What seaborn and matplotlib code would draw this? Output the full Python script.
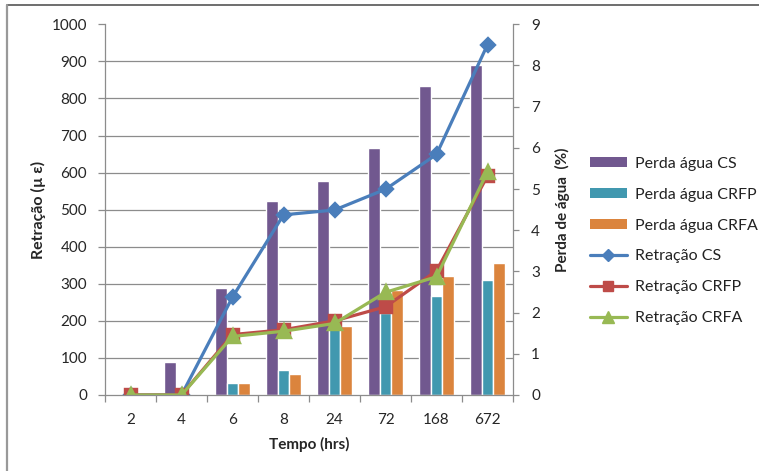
import matplotlib
matplotlib.use("Agg")
import matplotlib.pyplot as plt
from matplotlib.lines import Line2D
from matplotlib.ticker import FixedLocator
import numpy as np
import pandas as pd
import seaborn as sns

# Tempo de ensaio (horas) – eixo categórico
tempo = ["2", "4", "6", "8", "24", "72", "168", "672"]

# Perda de água (%) – barras, eixo da direita
perda_cs = [0.0, 0.8, 2.6, 4.7, 5.2, 6.0, 7.5, 8.0]
perda_crfp = [0.0, 0.0, 0.3, 0.6, 1.7, 2.0, 2.4, 2.8]
perda_crfa = [0.0, 0.0, 0.3, 0.5, 1.67, 2.55, 2.9, 3.2]

# Retração (µε) – linhas, eixo da esquerda
retr_cs = [0, 0, 264, 486, 499, 555, 649, 945]
retr_crfp = [0, 0, 163, 176, 200, 238, 335, 591]
retr_crfa = [0, 0, 158, 172, 193, 277, 319, 602]

bar_names = ["Perda água CS", "Perda água CRFP", "Perda água CRFA"]
line_names = ["Retração CS", "Retração CRFP", "Retração CRFA"]
bar_colors = ["#71588F", "#4198AF", "#DB843D"]
line_colors = ["#4A7EBB", "#BE4B48", "#98B954"]
markers = ["D", "s", "^"]
marker_sizes = [7.5, 9, 10]

bars_df = pd.DataFrame({
    "Tempo": tempo * 3,
    "Perda": perda_cs + perda_crfp + perda_crfa,
    "Serie": np.repeat(bar_names, len(tempo)),
})
lines_df = pd.DataFrame({
    "Tempo": tempo * 3,
    "Retracao": retr_cs + retr_crfp + retr_crfa,
    "Serie": np.repeat(line_names, len(tempo)),
})

sns.set_theme(style="white")
plt.rcParams["font.family"] = ["Lato", "DejaVu Sans"]
plt.rcParams["text.color"] = "#222222"

fig = plt.figure(figsize=(7.59, 4.71), dpi=100)
ax = fig.add_axes([105 / 759, 1 - 395 / 471, 408 / 759, (395 - 24.3) / 471])
ax2 = ax.twinx()

grid_col = "#8C8C8C"
spine_col = "#8C8C8C"

# Barras de perda de água no eixo secundário
sns.barplot(data=bars_df, x="Tempo", y="Perda", hue="Serie", order=tempo,
            hue_order=bar_names, palette=bar_colors, saturation=1,
            width=0.675, errorbar=None, ax=ax2, legend=False, zorder=2)

# Linhas de retração no eixo principal
for name, col, mk, ms in zip(line_names, line_colors, markers, marker_sizes):
    sns.pointplot(data=lines_df[lines_df["Serie"] == name], x="Tempo", y="Retracao",
                  order=tempo, color=col, markers=mk, errorbar=None,
                  markersize=ms, linewidth=2.3, ax=ax)

# Camadas: linhas sobre barras
ax.set_zorder(ax2.get_zorder() + 1)
ax.patch.set_visible(False)
ax2.patch.set_visible(False)

ax.set_xlim(-0.5, len(tempo) - 0.5)
ax.set_ylim(0, 1000)
ax2.set_ylim(0, 9)
ax.set_yticks(np.arange(0, 1001, 100))
ax2.set_yticks(np.arange(0, 10, 1))

# Grade horizontal alinhada com os ticks do eixo da retração
ax2.yaxis.set_minor_locator(FixedLocator(np.arange(0, 1001, 100) * 9 / 1000))
ax2.grid(False)
ax2.grid(which="minor", axis="y", color=grid_col, linewidth=0.9)
ax2.set_axisbelow(True)
ax.grid(False)

# Marcas do eixo x entre as categorias
ax.xaxis.set_minor_locator(FixedLocator(np.arange(-0.5, len(tempo), 1)))
ax.tick_params(axis="x", which="major", length=0, pad=13, labelsize=11)
ax.tick_params(axis="x", which="minor", length=5, width=0.9, color=spine_col, direction="out", bottom=True)
ax.tick_params(axis="y", which="major", length=5, width=0.9, color=spine_col, direction="out", left=True, pad=8, labelsize=11)
ax2.tick_params(axis="y", which="major", length=4, width=0.9, color=spine_col, direction="out", right=True, pad=9, labelsize=11)
ax2.tick_params(axis="y", which="minor", length=0)

for a in (ax, ax2):
    for s in a.spines.values():
        s.set_visible(False)
ax.spines["left"].set_visible(True)
ax.spines["bottom"].set_visible(True)
ax2.spines["right"].set_visible(True)
for s in (ax.spines["left"], ax.spines["bottom"], ax2.spines["right"]):
    s.set_color(spine_col)
    s.set_linewidth(0.9)

ax.set_xlabel("Tempo (hrs)", fontsize=11, fontweight="bold", labelpad=7)
ax.set_ylabel("Retração (µ ε)", fontsize=11.5, fontweight="bold", labelpad=4)
ax2.set_ylabel("Perda de água  (%)", fontsize=11, fontweight="bold", labelpad=11)
ax2.set_xlabel("")

# Legenda à direita
handles = [plt.Rectangle((0, 0), 1, 1, facecolor=c, edgecolor="none") for c in bar_colors]
handles += [Line2D([], [], color=c, marker=m, markersize=ms * 0.8, linewidth=2.3)
            for c, m, ms in zip(line_colors, markers, marker_sizes)]
fig.legend(handles, bar_names + line_names, loc="upper left",
           bbox_to_anchor=(590 / 759, 1 - 157 / 471), frameon=False,
           fontsize=11.5, handlelength=2.3, handleheight=0.6, labelspacing=1.05,
           handletextpad=0.5, borderpad=0, borderaxespad=0)

# Moldura do quadro
fig.add_artist(Line2D([7 / 759, 1], [1 - 5 / 471, 1 - 5 / 471], color="#555555", linewidth=1.2))
fig.add_artist(Line2D([7 / 759, 7 / 759], [0, 1 - 5 / 471], color="#999999", linewidth=1.6))

fig.savefig("out.png", dpi=100)
